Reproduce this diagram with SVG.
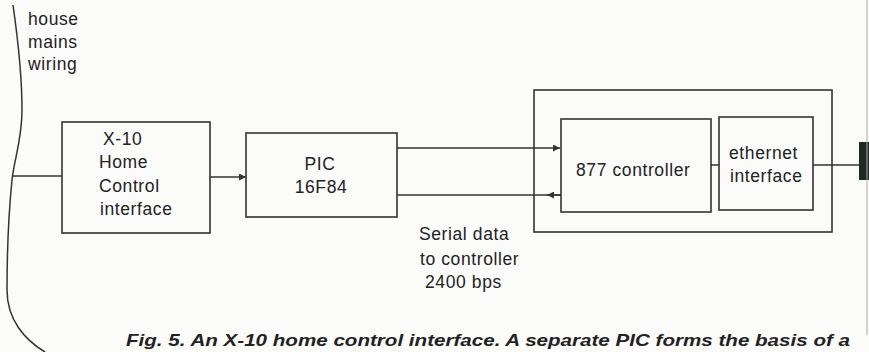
<svg xmlns="http://www.w3.org/2000/svg" width="869" height="352" viewBox="0 0 869 352">
<defs>
<style>
.box{fill:none;stroke:#333;stroke-width:1.6}
.ln{fill:none;stroke:#333;stroke-width:1.5}
.t{font-family:"Liberation Sans",Arial,sans-serif;font-size:17.5px;letter-spacing:0.6px;fill:#222}
.c{text-anchor:middle}
.cap{font-family:"Liberation Sans",Arial,sans-serif;font-size:17px;font-weight:bold;font-style:italic;fill:#222}
</style>
<marker id="ah" viewBox="0 0 10 10" refX="10" refY="5" markerWidth="7" markerHeight="7" markerUnits="userSpaceOnUse" orient="auto">
<path d="M0,0 L10,5 L0,10 z" fill="#333"/>
</marker>
</defs>
<rect width="869" height="352" fill="#fbfbfa"/>

<g id="mains">
<path class="ln" d="M13,5 C18,40 22,80 22,110 C22,140 14,160 12,180 C9,210 7,250 7,290 C7,320 25,340 45,352"/>
<text class="t" x="28" y="25">house</text>
<text class="t" x="28" y="48">mains</text>
<text class="t" x="28" y="70">wiring</text>
</g>

<g id="x10">
<rect class="box" x="62" y="122" width="148" height="111"/>
<text class="t" x="103" y="145">X-10</text>
<text class="t" x="99" y="168">Home</text>
<text class="t" x="99" y="192">Control</text>
<text class="t" x="100" y="215">interface</text>
</g>

<g id="pic">
<rect class="box" x="246" y="133" width="151" height="84"/>
<text class="t c" x="320" y="170">PIC</text>
<text class="t c" x="321" y="193">16F84</text>
</g>

<g id="enclosure">
<rect class="box" x="534" y="90" width="298" height="142"/>
</g>

<g id="controller">
<rect class="box" x="561" y="119" width="150" height="93"/>
<text class="t" x="576" y="176">877 controller</text>
</g>

<g id="ethernet">
<rect class="box" x="719" y="117" width="94" height="93"/>
<text class="t" x="729" y="159">ethernet</text>
<text class="t" x="730" y="182">interface</text>
</g>

<g id="connector-plug">
<rect x="859" y="142" width="10" height="38" fill="#1f2a26"/>
<line x1="867" y1="0" x2="867" y2="335" stroke="#aaa" stroke-width="1"/>
</g>

<g id="connectors">
<line class="ln" x1="13" y1="176" x2="62" y2="176"/>
<line class="ln" x1="210" y1="177" x2="246" y2="177" marker-end="url(#ah)"/>
<line class="ln" x1="397" y1="148" x2="560" y2="148" marker-end="url(#ah)"/>
<line class="ln" x1="561" y1="195" x2="397" y2="195"/>
<line class="ln" x1="561" y1="195" x2="547" y2="195" marker-end="url(#ah)"/>
<line class="ln" x1="711" y1="165" x2="719" y2="165"/>
<line class="ln" x1="813" y1="165" x2="859" y2="165"/>
</g>

<g id="serial-label">
<text class="t" x="419" y="240">Serial data</text>
<text class="t" x="420" y="265">to controller</text>
<text class="t" x="425" y="288">2400 bps</text>
</g>

<text class="cap" x="126" y="346" textLength="724" lengthAdjust="spacingAndGlyphs">Fig. 5. An X-10 home control interface. A separate PIC forms the basis of a</text>
</svg>
